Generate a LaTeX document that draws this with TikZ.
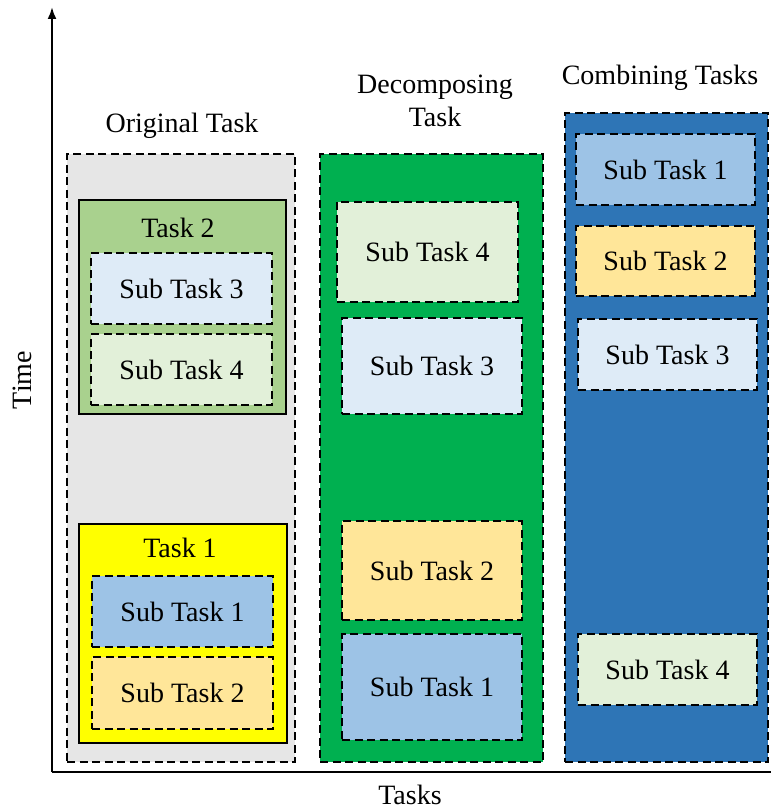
\documentclass[tikz,border=0pt]{standalone}
\usepackage{fontspec}
\setmainfont{Liberation Serif}
\usetikzlibrary{arrows.meta}
\definecolor{panelgray}{HTML}{E6E6E6}
\definecolor{tasktwo}{HTML}{A9D18E}
\definecolor{taskone}{HTML}{FFFF00}
\definecolor{subone}{HTML}{9DC3E6}
\definecolor{subtwo}{HTML}{FFE699}
\definecolor{subthree}{HTML}{DEEBF7}
\definecolor{subfour}{HTML}{E2F0D9}
\definecolor{decgreen}{HTML}{00B050}
\definecolor{combblue}{HTML}{2E75B6}
\tikzset{
  txt/.style={font=\fontsize{28}{33}\selectfont, inner sep=0pt},
  panel/.style={draw=black, line width=2.3pt, dash pattern=on 8pt off 4.5pt, inner sep=0pt},
  taskbox/.style={draw=black, line width=2.4pt, inner sep=0pt},
  subbox/.style={panel, txt},
}
\begin{document}
\begin{tikzpicture}[x=1pt, y=-1pt]
\useasboundingbox (0,0) rectangle (770,810);

% axes
\coordinate (origin) at (52,772);
\coordinate (ytop) at (52,7);
\coordinate (xend) at (772,772);
\draw[line width=2.2pt, -{Latex[length=12pt,width=9pt]}] (origin) -- (ytop);
\draw[line width=2.2pt] (origin) -- (xend);
\node[txt, rotate=90] (timelbl) at (22,380) {Time};
\node[txt] (taskslbl) at (410,795) {Tasks};

% original task column
\node[panel, fill=panelgray, minimum width=228pt, minimum height=608pt] (orig) at (181,458) {};
\node[txt] (origlbl) at (182,126) {Original Task};
\node[taskbox, fill=tasktwo, minimum width=207pt, minimum height=214pt] (task2) at (182.5,307) {};
\node[txt] (task2lbl) at (178,228) {Task 2};
\node[subbox, fill=subthree, minimum width=181pt, minimum height=71pt] (sta3) at (181.5,288.5) {Sub Task 3};
\node[subbox, fill=subfour, minimum width=181pt, minimum height=71pt] (sta4) at (181.5,369.5) {Sub Task 4};
\node[taskbox, fill=taskone, minimum width=208pt, minimum height=219pt] (task1) at (183,633.5) {};
\node[txt] (task1lbl) at (180,548) {Task 1};
\node[subbox, fill=subone, minimum width=181pt, minimum height=71pt] (sta1) at (182.5,611.5) {Sub Task 1};
\node[subbox, fill=subtwo, minimum width=181pt, minimum height=72pt] (sta2) at (182.5,693) {Sub Task 2};

% decomposing column
\node[panel, fill=decgreen, minimum width=223pt, minimum height=608pt] (dec) at (431.5,458) {};
\node[txt, align=center] (declbl) at (435,101) {Decomposing\\Task};
\node[subbox, fill=subfour, minimum width=181pt, minimum height=100pt] (stb4) at (427.5,252) {Sub Task 4};
\node[subbox, fill=subthree, minimum width=180pt, minimum height=96pt] (stb3) at (432,366) {Sub Task 3};
\node[subbox, fill=subtwo, minimum width=180pt, minimum height=99pt] (stb2) at (432,570.5) {Sub Task 2};
\node[subbox, fill=subone, minimum width=180pt, minimum height=106pt] (stb1) at (432,687) {Sub Task 1};

% combining column
\node[panel, fill=combblue, minimum width=203pt, minimum height=649pt] (comb) at (666.5,437.5) {};
\node[txt] (comblbl) at (660,78) {Combining Tasks};
\node[subbox, fill=subone, minimum width=179pt, minimum height=71pt] (stc1) at (665.5,169.5) {Sub Task 1};
\node[subbox, fill=subtwo, minimum width=179pt, minimum height=70pt] (stc2) at (665.5,261) {Sub Task 2};
\node[subbox, fill=subthree, minimum width=179pt, minimum height=71pt] (stc3) at (667.5,354.5) {Sub Task 3};
\node[subbox, fill=subfour, minimum width=179pt, minimum height=71pt] (stc4) at (667.5,669.5) {Sub Task 4};
\end{tikzpicture}
\end{document}
